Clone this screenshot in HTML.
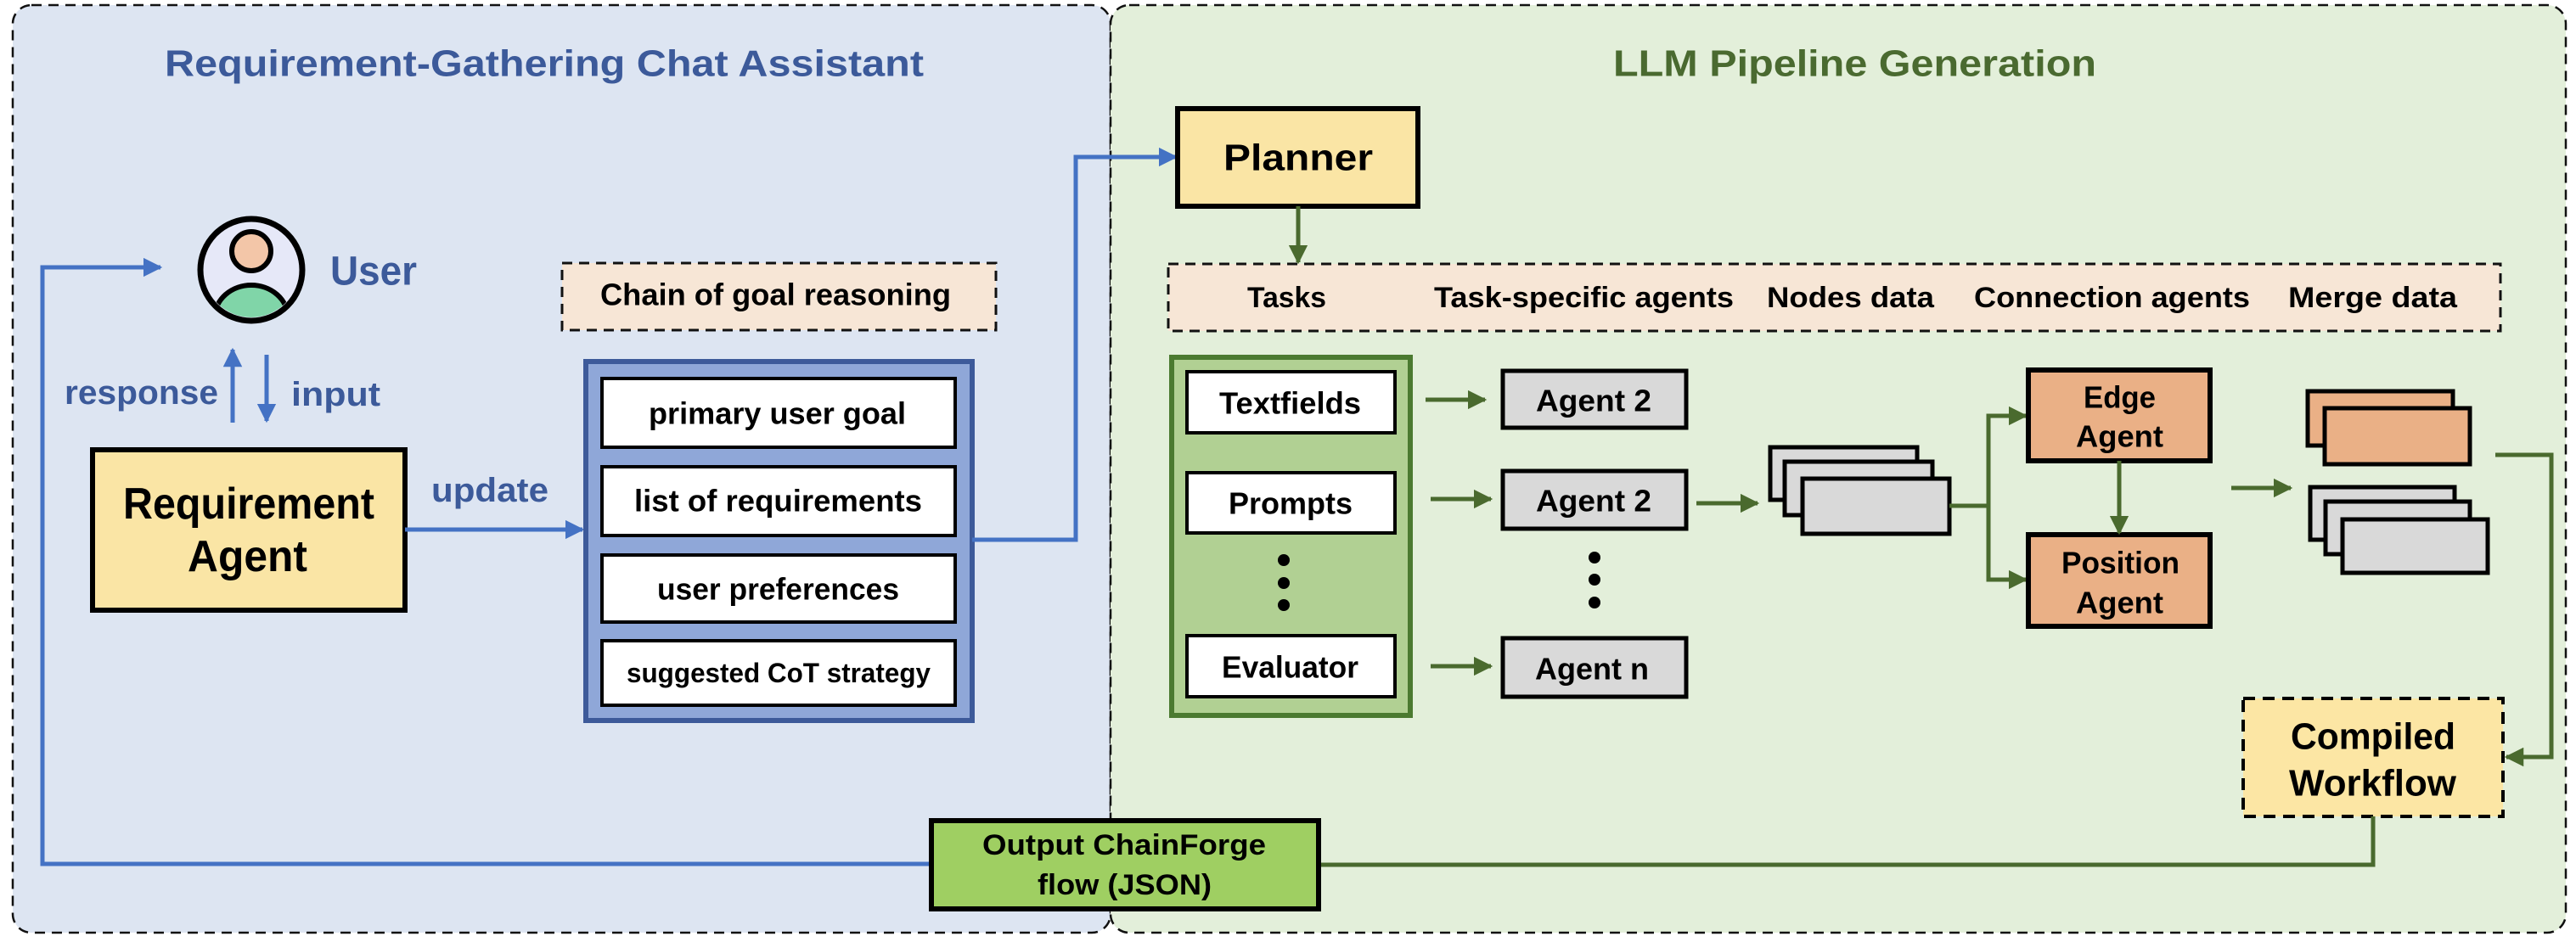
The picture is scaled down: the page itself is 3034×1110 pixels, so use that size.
<!DOCTYPE html>
<html><head><meta charset="utf-8"><style>
html,body{margin:0;padding:0;background:#fff;}
svg{display:block;}
text{font-family:"Liberation Sans",sans-serif;font-weight:bold;dominant-baseline:central;text-anchor:start;}
</style></head><body>
<svg width="3034" height="1110" viewBox="0 0 3034 1110" xmlns="http://www.w3.org/2000/svg">
<defs>
<marker id="ab" viewBox="0 0 10 10" refX="9" refY="5" markerWidth="4.5" markerHeight="4.5" orient="auto-start-reverse" markerUnits="strokeWidth"><path d="M0,0 L10,5 L0,10 z" fill="#4472c4"/></marker>
<marker id="ag" viewBox="0 0 10 10" refX="9" refY="5" markerWidth="4.5" markerHeight="4.5" orient="auto-start-reverse" markerUnits="strokeWidth"><path d="M0,0 L10,5 L0,10 z" fill="#4a6a2e"/></marker>
</defs>
<!-- panels -->
<rect x="15" y="6" width="1293" height="1093" rx="22" fill="#dde5f2" stroke="#111" stroke-width="2.5" stroke-dasharray="12,8"/>
<rect x="1308" y="6" width="1714" height="1093" rx="22" fill="#e3efda" stroke="#111" stroke-width="2.5" stroke-dasharray="12,8"/>
<text x="194" y="75" font-size="44" fill="#3c5a9a" textLength="894" lengthAdjust="spacingAndGlyphs">Requirement-Gathering Chat Assistant</text>
<text x="1900" y="75" font-size="44" fill="#4a6a30" textLength="569" lengthAdjust="spacingAndGlyphs">LLM Pipeline Generation</text>

<!-- user -->
<circle cx="296" cy="318" r="60" fill="#e6e8f8" stroke="#000" stroke-width="7"/>
<clipPath id="uc"><circle cx="296" cy="318" r="56"/></clipPath>
<g clip-path="url(#uc)">
<ellipse cx="296" cy="374" rx="43" ry="38" fill="#80d5a8" stroke="#000" stroke-width="6"/>
</g>
<circle cx="296" cy="296" r="23" fill="#f3c6a8" stroke="#000" stroke-width="6"/>
<text x="389" y="320" font-size="48" fill="#3c5a9a" textLength="102" lengthAdjust="spacingAndGlyphs">User</text>
<line x1="274" y1="498" x2="274" y2="412" stroke="#4472c4" stroke-width="5" marker-end="url(#ab)"/>
<line x1="314" y1="418" x2="314" y2="496" stroke="#4472c4" stroke-width="5" marker-end="url(#ab)"/>
<text x="76" y="463" font-size="40" fill="#3c5a9a" textLength="181" lengthAdjust="spacingAndGlyphs">response</text>
<text x="343" y="465" font-size="40" fill="#3c5a9a" textLength="105" lengthAdjust="spacingAndGlyphs">input</text>

<!-- requirement agent -->
<rect x="109" y="530" width="368" height="189" fill="#fae5a5" stroke="#000" stroke-width="6"/>
<text x="145" y="594" font-size="52" fill="#000" textLength="296" lengthAdjust="spacingAndGlyphs">Requirement</text>
<text x="221" y="656" font-size="52" fill="#000" textLength="141" lengthAdjust="spacingAndGlyphs">Agent</text>
<text x="508" y="578" font-size="40" fill="#3c5a9a" textLength="138" lengthAdjust="spacingAndGlyphs">update</text>
<line x1="477" y1="624" x2="686" y2="624" stroke="#4472c4" stroke-width="5" marker-end="url(#ab)"/>

<!-- chain -->
<rect x="662" y="310" width="511" height="79" fill="#f7e6d6" stroke="#111" stroke-width="3" stroke-dasharray="12,8"/>
<text x="707" y="347" font-size="36" fill="#000" textLength="413" lengthAdjust="spacingAndGlyphs">Chain of goal reasoning</text>
<rect x="690" y="426" width="455" height="423" fill="#8fa7d8" stroke="#3d5a9a" stroke-width="6"/>
<rect x="709" y="446" width="416" height="81" fill="#fff" stroke="#000" stroke-width="4"/>
<rect x="709" y="550" width="416" height="81" fill="#fff" stroke="#000" stroke-width="4"/>
<rect x="709" y="654" width="416" height="79" fill="#fff" stroke="#000" stroke-width="4"/>
<rect x="709" y="755" width="416" height="76" fill="#fff" stroke="#000" stroke-width="4"/>
<text x="764" y="487" font-size="36" textLength="303" lengthAdjust="spacingAndGlyphs">primary user goal</text>
<text x="747" y="590" font-size="36" textLength="339" lengthAdjust="spacingAndGlyphs">list of requirements</text>
<text x="774" y="694" font-size="36" textLength="285" lengthAdjust="spacingAndGlyphs">user preferences</text>
<text x="738" y="793" font-size="32" textLength="358" lengthAdjust="spacingAndGlyphs">suggested CoT strategy</text>
<polyline points="1145,636 1267,636 1267,185 1385,185" fill="none" stroke="#4472c4" stroke-width="5" marker-end="url(#ab)"/>

<!-- feedback -->
<polyline points="1097,1018 50,1018 50,315 189,315" fill="none" stroke="#4472c4" stroke-width="5" marker-end="url(#ab)"/>

<!-- planner -->
<rect x="1387" y="128" width="283" height="115" fill="#fae5a5" stroke="#000" stroke-width="6"/>
<text x="1441" y="186" font-size="44" textLength="176" lengthAdjust="spacingAndGlyphs">Planner</text>
<line x1="1529" y1="243" x2="1529" y2="309" stroke="#4a6a2e" stroke-width="5" marker-end="url(#ag)"/>

<!-- header -->
<rect x="1376" y="311" width="1569" height="79" fill="#f7e6d6" stroke="#111" stroke-width="3" stroke-dasharray="12,8"/>
<text x="1469" y="351" font-size="34" textLength="93" lengthAdjust="spacingAndGlyphs">Tasks</text>
<text x="1689" y="351" font-size="34" textLength="353" lengthAdjust="spacingAndGlyphs">Task-specific agents</text>
<text x="2081" y="351" font-size="34" textLength="197" lengthAdjust="spacingAndGlyphs">Nodes data</text>
<text x="2325" y="351" font-size="34" textLength="325" lengthAdjust="spacingAndGlyphs">Connection agents</text>
<text x="2695" y="351" font-size="34" textLength="199" lengthAdjust="spacingAndGlyphs">Merge data</text>

<!-- tasks column -->
<rect x="1380" y="421" width="281" height="422" fill="#b1d093" stroke="#4b7a30" stroke-width="6"/>
<rect x="1398" y="438" width="245" height="72" fill="#fff" stroke="#000" stroke-width="4"/>
<rect x="1398" y="557" width="245" height="71" fill="#fff" stroke="#000" stroke-width="4"/>
<rect x="1398" y="749" width="245" height="72" fill="#fff" stroke="#000" stroke-width="4"/>
<text x="1436" y="475" font-size="36" textLength="167" lengthAdjust="spacingAndGlyphs">Textfields</text>
<text x="1447" y="593" font-size="36" textLength="146" lengthAdjust="spacingAndGlyphs">Prompts</text>
<text x="1439" y="786" font-size="36" textLength="161" lengthAdjust="spacingAndGlyphs">Evaluator</text>
<circle cx="1512" cy="660" r="7"/><circle cx="1512" cy="687" r="7"/><circle cx="1512" cy="713" r="7"/>

<line x1="1679" y1="471" x2="1749" y2="471" stroke="#4a6a2e" stroke-width="5" marker-end="url(#ag)"/>
<line x1="1685" y1="588" x2="1756" y2="588" stroke="#4a6a2e" stroke-width="5" marker-end="url(#ag)"/>
<line x1="1685" y1="785" x2="1756" y2="785" stroke="#4a6a2e" stroke-width="5" marker-end="url(#ag)"/>

<rect x="1770" y="437" width="216" height="67" fill="#d9d9d9" stroke="#000" stroke-width="5"/>
<rect x="1770" y="555" width="216" height="68" fill="#d9d9d9" stroke="#000" stroke-width="5"/>
<rect x="1770" y="752" width="216" height="69" fill="#d9d9d9" stroke="#000" stroke-width="5"/>
<text x="1809" y="472" font-size="36" textLength="136" lengthAdjust="spacingAndGlyphs">Agent 2</text>
<text x="1809" y="590" font-size="36" textLength="136" lengthAdjust="spacingAndGlyphs">Agent 2</text>
<text x="1808" y="788" font-size="36" textLength="134" lengthAdjust="spacingAndGlyphs">Agent n</text>
<circle cx="1878" cy="657" r="7"/><circle cx="1878" cy="683" r="7"/><circle cx="1878" cy="710" r="7"/>

<line x1="1998" y1="593" x2="2070" y2="593" stroke="#4a6a2e" stroke-width="5" marker-end="url(#ag)"/>
<rect x="2085" y="527" width="173" height="62" fill="#d9d9d9" stroke="#000" stroke-width="5"/>
<rect x="2102" y="544" width="174" height="63" fill="#d9d9d9" stroke="#000" stroke-width="5"/>
<rect x="2123" y="564" width="173" height="65" fill="#d9d9d9" stroke="#000" stroke-width="5"/>

<polyline points="2296,596 2342,596 2342,490 2386,490" fill="none" stroke="#4a6a2e" stroke-width="5" marker-end="url(#ag)"/>
<polyline points="2342,596 2342,683 2386,683" fill="none" stroke="#4a6a2e" stroke-width="5" marker-end="url(#ag)"/>

<rect x="2389" y="436" width="214" height="107" fill="#eab086" stroke="#000" stroke-width="6"/>
<rect x="2389" y="630" width="214" height="108" fill="#eab086" stroke="#000" stroke-width="6"/>
<text x="2454" y="468" font-size="36" textLength="85" lengthAdjust="spacingAndGlyphs">Edge</text>
<text x="2445" y="514" font-size="36" textLength="103" lengthAdjust="spacingAndGlyphs">Agent</text>
<text x="2428" y="663" font-size="36" textLength="139" lengthAdjust="spacingAndGlyphs">Position</text>
<text x="2445" y="710" font-size="36" textLength="103" lengthAdjust="spacingAndGlyphs">Agent</text>
<line x1="2496" y1="543" x2="2496" y2="628" stroke="#4a6a2e" stroke-width="5" marker-end="url(#ag)"/>

<line x1="2628" y1="575" x2="2698" y2="575" stroke="#4a6a2e" stroke-width="5" marker-end="url(#ag)"/>
<rect x="2718" y="461" width="171" height="64" fill="#eab086" stroke="#000" stroke-width="5"/>
<rect x="2738" y="481" width="171" height="66" fill="#eab086" stroke="#000" stroke-width="5"/>
<rect x="2721" y="574" width="170" height="62" fill="#d9d9d9" stroke="#000" stroke-width="5"/>
<rect x="2739" y="591" width="170" height="62" fill="#d9d9d9" stroke="#000" stroke-width="5"/>
<rect x="2759" y="612" width="171" height="63" fill="#d9d9d9" stroke="#000" stroke-width="5"/>

<polyline points="2939,536 3005,536 3005,892 2952,892" fill="none" stroke="#4a6a2e" stroke-width="5" marker-end="url(#ag)"/>

<rect x="2642" y="823" width="306" height="139" fill="#fce6a4" stroke="#000" stroke-width="4" stroke-dasharray="14,9"/>
<text x="2698" y="868" font-size="44" textLength="194" lengthAdjust="spacingAndGlyphs">Compiled</text>
<text x="2696" y="923" font-size="44" textLength="197" lengthAdjust="spacingAndGlyphs">Workflow</text>

<polyline points="2795,962 2795,1019 1553,1019" fill="none" stroke="#4a6a2e" stroke-width="5"/>

<rect x="1097" y="967" width="456" height="104" fill="#9fcf62" stroke="#000" stroke-width="6"/>
<text x="1157" y="996" font-size="34" textLength="334" lengthAdjust="spacingAndGlyphs">Output ChainForge</text>
<text x="1222" y="1043" font-size="34" textLength="205" lengthAdjust="spacingAndGlyphs">flow (JSON)</text>
</svg>
</body></html>
